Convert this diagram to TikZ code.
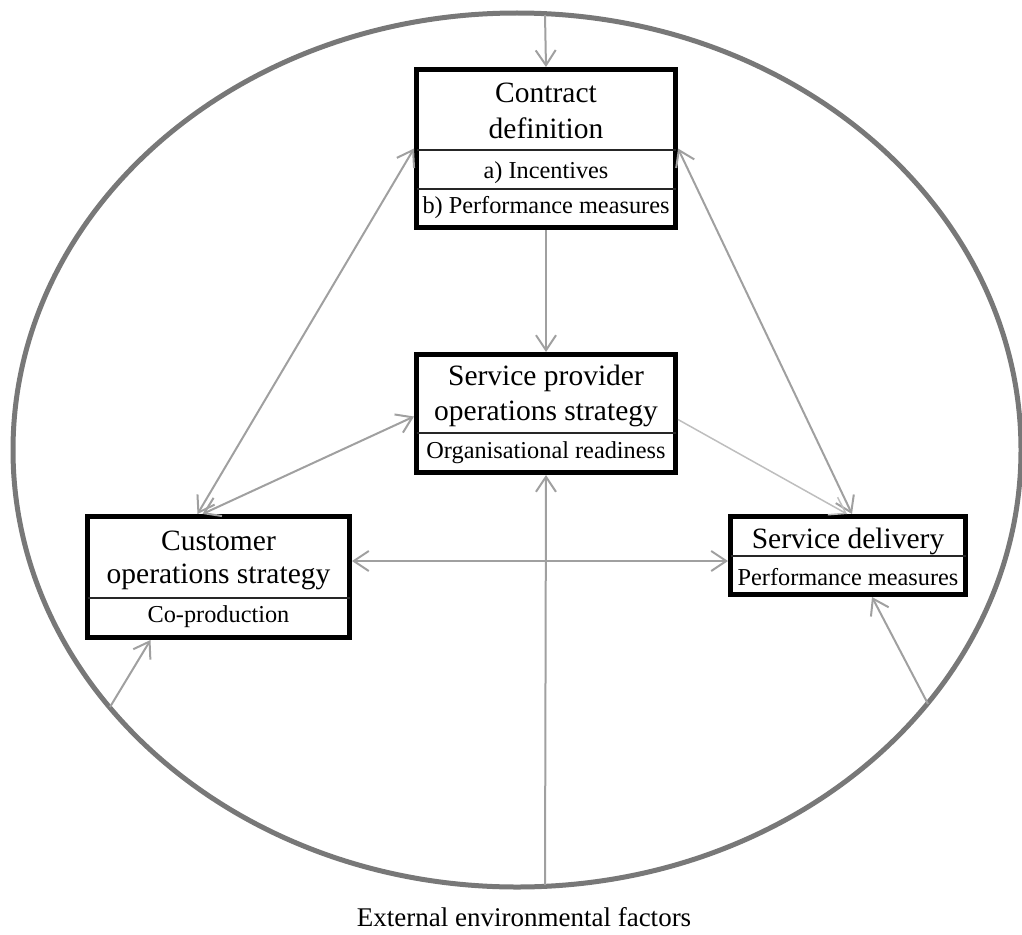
\documentclass[tikz,border=0pt]{standalone}
\usepackage{fontspec}
\setmainfont{Liberation Serif}
\usetikzlibrary{arrows.meta}
\definecolor{rimgray}{HTML}{787878}
\definecolor{linkgray}{HTML}{A0A0A0}
\definecolor{softgray}{HTML}{BEBEBE}
\begin{document}
\begin{tikzpicture}[x=1pt,y=-1pt,
  frame/.style={draw=black, line width=5pt, inner sep=0pt, fill=white},
  divider/.style={draw=black!85, line width=1.3pt},
  title/.style={font=\fontsize{29.5}{32}\selectfont, anchor=base, inner sep=0pt},
  sub/.style={font=\fontsize{24.3}{28}\selectfont, anchor=base, inner sep=0pt},
  link/.style={draw=linkgray, line width=2pt, -{Straight Barb[length=15pt,width=20pt]}},
  dlink/.style={draw=linkgray, line width=2pt, {Straight Barb[length=15pt,width=20pt]}-{Straight Barb[length=15pt,width=20pt]}},
  thinlink/.style={draw=softgray, line width=1.5pt, -{Straight Barb[length=15pt,width=20pt]}}]
\useasboundingbox (0,0) rectangle (1022,934);

% surrounding environment
\draw[draw=rimgray, line width=5pt] (517,450) ellipse [x radius=504, y radius=437];
\coordinate (envtop) at (545,15);
\coordinate (envbottom) at (545,885);
\coordinate (envleft) at (110,707);
\coordinate (envright) at (928,704);

% boxes (outer frame)
\node[frame, minimum width=259pt, minimum height=158pt] (cd) at (546,148.5) {};
\node[frame, minimum width=259pt, minimum height=118pt] (sp) at (546,413.5) {};
\node[frame, minimum width=262pt, minimum height=121pt] (co) at (218.5,577) {};
\node[frame, minimum width=235pt, minimum height=78pt] (sd) at (848,555.5) {};

% compartment dividers
\draw[divider] (416.5,150) -- (675.5,150);
\draw[divider] (416.5,189) -- (675.5,189);
\draw[divider] (416.5,433) -- (675.5,433);
\draw[divider] (87.5,598) -- (349.5,598);
\draw[divider] (730.5,556) -- (965.5,556);

% box texts
\node[title] (cd1) at (546,102) {Contract};
\node[title] (cd2) at (546,138) {definition};
\node[sub] (cd3) at (546,178) {a) Incentives};
\node[sub] (cd4) at (546,213) {b) Performance measures};

\node[title] (sp1) at (546,385) {Service provider};
\node[title] (sp2) at (546,420) {operations strategy};
\node[sub] (sp3) at (546,458) {Organisational readiness};

\node[title] (co1) at (218.5,550) {Customer};
\node[title] (co2) at (218.5,583) {operations strategy};
\node[sub] (co3) at (218.5,622) {Co-production};

\node[title] (sd1) at (848,548) {Service delivery};
\node[sub] (sd2) at (848,585) {Performance measures};

\node[font=\fontsize{27}{30}\selectfont, anchor=base, inner sep=0pt] (ext) at (524,926) {External environmental factors};

% connectors
\draw[link] (envtop) -- (cd.north);
\draw[link] (cd.south) -- (sp.north);
\draw[dlink] (cd.west) -- ([xshift=-21pt]co.north);
\draw[dlink] ([yshift=-3pt]sp.west) -- ([xshift=-16pt]co.north);
\draw[dlink] (cd.east) -- ([xshift=4pt]sd.north);
\draw[thinlink] ([yshift=-6pt]sp.east) -- ([xshift=-1pt]sd.north);
\draw[dlink] ([yshift=16pt]co.east) -- ([yshift=-5.5pt]sd.west);
\draw[link] (envbottom) -- (sp.south);
\draw[link] (envleft) -- ([xshift=-68pt]co.south);
\draw[link] (envright) -- ([xshift=24pt]sd.south);
\end{tikzpicture}
\end{document}
